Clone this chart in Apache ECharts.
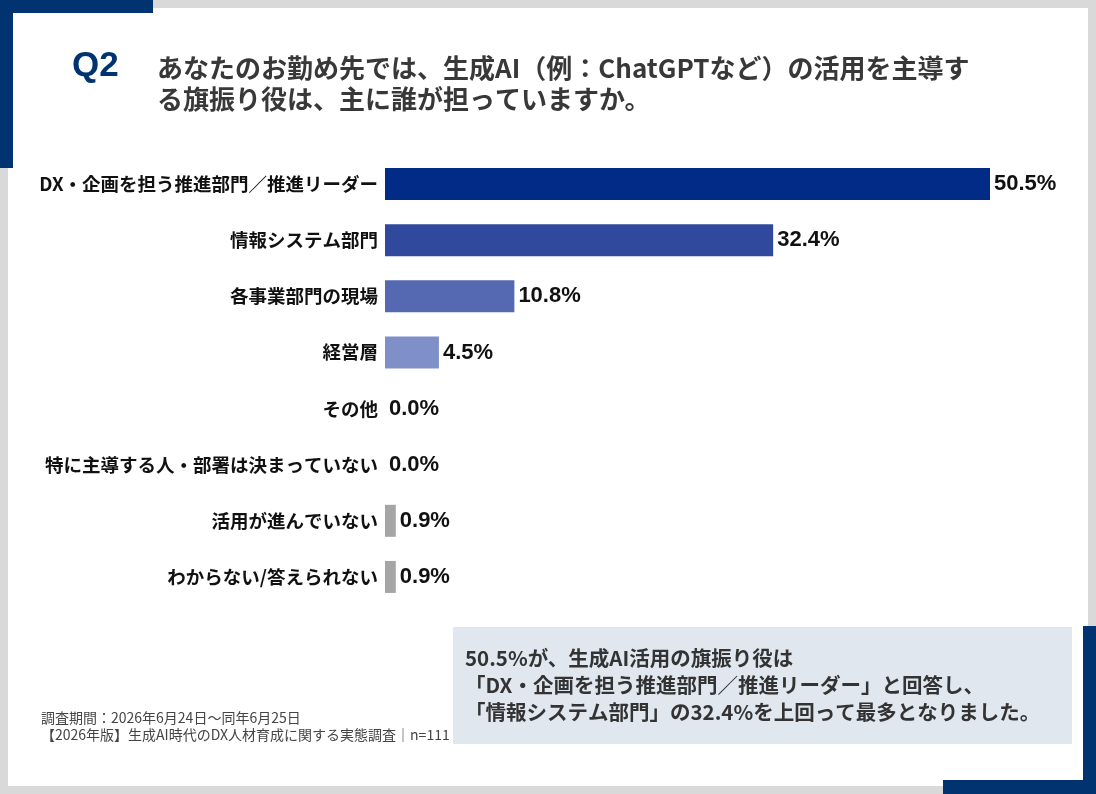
<!DOCTYPE html>
<html>
<head>
<meta charset="utf-8">
<script src="https://cdn.jsdelivr.net/npm/echarts@6/dist/echarts.min.js"></script>
<style>
  html, body { margin: 0; padding: 0; background: #d9d9d9; }
  #chart { width: 1096px; height: 794px; }
</style>
</head>
<body>
<div id="chart"></div>
<script>
const categories = [
  'DX・企画を担う推進部門／推進リーダー',
  '情報システム部門',
  '各事業部門の現場',
  '経営層',
  'その他',
  '特に主導する人・部署は決まっていない',
  '活用が進んでいない',
  'わからない/答えられない'
]
const values = [50.5, 32.4, 10.8, 4.5, 0.0, 0.0, 0.9, 0.9]

const questionLines = [
  'あなたのお勤め先では、生成AI（例：ChatGPTなど）の活用を主導す',
  'る旗振り役は、主に誰が担っていますか。'
]
const calloutLines = [
  '50.5%が、生成AI活用の旗振り役は',
  '「DX・企画を担う推進部門／推進リーダー」と回答し、',
  '「情報システム部門」の32.4%を上回って最多となりました。'
]
const footerLines = [
  '調査期間：2026年6月24日～同年6月25日',
  '【2026年版】生成AI時代のDX人材育成に関する実態調査｜n=111'
]

// bar colours, top to bottom
const barColors = ['#022b88', '#31499d', '#5469b2', '#7f8fc7', '#7f8fc7', '#7f8fc7', '#a5a5a5', '#a5a5a5']
const navy = '#00336f'
const jp = '"Noto Sans CJK JP", "Noto Sans", sans-serif'

const chart = echarts.init(document.getElementById('chart'))

const option = {
  backgroundColor: '#d9d9d9',
  animation: false,
  grid: { left: 385, top: 156, width: 605, height: 449 },
  xAxis: { type: 'value', min: 0, max: 50.5, show: false },
  yAxis: {
    type: 'category',
    data: categories,
    inverse: true,
    axisLine: { show: false },
    axisTick: { show: false },
    axisLabel: {
      margin: 7,
      color: '#111',
      fontSize: 18.5,
      fontWeight: 'bold',
      fontFamily: jp
    }
  },
  graphic: [
    // card and frame
    { type: 'rect', z: -10, shape: { x: 8, y: 8, width: 1080, height: 778 }, style: { fill: '#fff' } },
    { type: 'rect', z: -9, shape: { x: 0, y: 0, width: 153, height: 13 }, style: { fill: navy } },
    { type: 'rect', z: -9, shape: { x: 0, y: 0, width: 13, height: 168 }, style: { fill: navy } },
    { type: 'rect', z: -9, shape: { x: 1083, y: 626, width: 13, height: 168 }, style: { fill: navy } },
    { type: 'rect', z: -9, shape: { x: 943, y: 780, width: 153, height: 14 }, style: { fill: navy } },
    // callout box
    { type: 'rect', z: -8, shape: { x: 453, y: 627, width: 619, height: 117 }, style: { fill: '#e1e7ef' } },
    // Q2 heading
    {
      type: 'text', left: 72, top: 49,
      style: { text: 'Q2', fill: navy, font: 'bold 35px "Liberation Sans", Arial, sans-serif' }
    },
    {
      type: 'text', left: 157, top: 53,
      style: {
        text: questionLines.join('\n'), fill: '#383838', lineHeight: 31,
        font: 'bold 26px ' + jp
      }
    },
    {
      type: 'text', left: 465, top: 645,
      style: {
        text: calloutLines.join('\n'), fill: '#333', lineHeight: 27,
        font: 'bold 20.5px ' + jp
      }
    },
    {
      type: 'text', left: 41, top: 709,
      style: {
        text: footerLines.join('\n'), fill: '#444', lineHeight: 17,
        font: '14px ' + jp
      }
    }
  ],
  series: [{
    type: 'bar',
    data: values.map((v, i) => ({ value: v, itemStyle: { color: barColors[i] } })),
    barWidth: 32,
    label: {
      show: true,
      position: 'right',
      distance: 4,
      color: '#111',
      fontSize: 22,
      fontWeight: 'bold',
      fontFamily: '"Liberation Sans", Arial, sans-serif',
      formatter: p => p.value.toFixed(1) + '%'
    }
  }]
}

chart.setOption(option)
</script>
</body>
</html>
